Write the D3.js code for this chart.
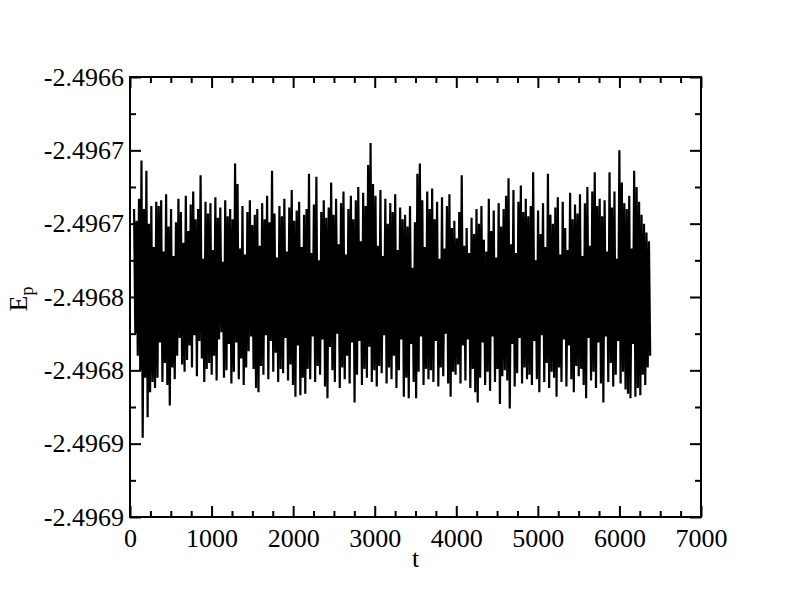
<!DOCTYPE html>
<html lang="en">
<head>
    <meta charset="utf-8">
    <title>Ep vs t</title>
    <style>
        body {
            margin: 0;
            background-color: #ffffff;
        }
        text {
            font-family: 'Liberation Serif', 'Times New Roman', serif;
        }
    </style>
    <script src="https://d3js.org/d3.v7.min.js" charset="utf-8"></script>
</head>
<body>
    <svg id="chart" width="792" height="610"></svg>

    <script type="text/javascript">
    // time axis: first sample and step between samples
    var tStart = 50
    var tStep = 15.1

    // potential energy, one value per sample
    var energy = [
        -2.496690, -2.496775, -2.496698, -2.496790, -2.496683, -2.496800, -2.496657, -2.496846, -2.496690, -2.496805,
        -2.496664, -2.496832, -2.496700, -2.496815, -2.496688, -2.496808, -2.496716, -2.496812, -2.496685, -2.496805,
        -2.496688, -2.496781, -2.496684, -2.496808, -2.496719, -2.496795, -2.496680, -2.496810, -2.496702, -2.496824,
        -2.496690, -2.496798, -2.496722, -2.496806, -2.496699, -2.496790, -2.496683, -2.496778, -2.496692, -2.496796,
        -2.496713, -2.496801, -2.496681, -2.496793, -2.496705, -2.496783, -2.496687, -2.496798, -2.496678, -2.496776,
        -2.496697, -2.496804, -2.496690, -2.496780, -2.496667, -2.496792, -2.496724, -2.496808, -2.496685, -2.496799,
        -2.496693, -2.496795, -2.496686, -2.496803, -2.496718, -2.496790, -2.496682, -2.496807, -2.496696, -2.496779,
        -2.496689, -2.496774, -2.496726, -2.496805, -2.496684, -2.496800, -2.496695, -2.496782, -2.496690, -2.496809,
        -2.496697, -2.496801, -2.496659, -2.496781, -2.496673, -2.496806, -2.496717, -2.496792, -2.496688, -2.496810,
        -2.496721, -2.496798, -2.496692, -2.496787, -2.496684, -2.496777, -2.496701, -2.496799, -2.496694, -2.496812,
        -2.496690, -2.496815, -2.496715, -2.496797, -2.496686, -2.496803, -2.496697, -2.496776, -2.496681, -2.496806,
        -2.496699, -2.496780, -2.496664, -2.496801, -2.496693, -2.496788, -2.496723, -2.496808, -2.496688, -2.496799,
        -2.496695, -2.496802, -2.496683, -2.496778, -2.496719, -2.496807, -2.496689, -2.496796, -2.496677, -2.496810,
        -2.496698, -2.496818, -2.496691, -2.496783, -2.496685, -2.496817, -2.496716, -2.496805, -2.496694, -2.496816,
        -2.496690, -2.496799, -2.496666, -2.496806, -2.496720, -2.496777, -2.496687, -2.496808, -2.496668, -2.496797,
        -2.496725, -2.496803, -2.496692, -2.496779, -2.496684, -2.496811, -2.496696, -2.496819, -2.496689, -2.496784,
        -2.496672, -2.496800, -2.496694, -2.496808, -2.496683, -2.496775, -2.496714, -2.496812, -2.496686, -2.496798,
        -2.496678, -2.496806, -2.496721, -2.496790, -2.496690, -2.496809, -2.496681, -2.496781, -2.496697, -2.496822,
        -2.496684, -2.496803, -2.496675, -2.496780, -2.496712, -2.496810, -2.496679, -2.496799, -2.496688, -2.496805,
        -2.496660, -2.496784, -2.496645, -2.496808, -2.496673, -2.496800, -2.496681, -2.496811, -2.496715, -2.496797,
        -2.496677, -2.496802, -2.496722, -2.496776, -2.496683, -2.496809, -2.496700, -2.496798, -2.496686, -2.496806,
        -2.496692, -2.496790, -2.496680, -2.496812, -2.496718, -2.496800, -2.496689, -2.496779, -2.496697, -2.496818,
        -2.496694, -2.496805, -2.496702, -2.496819, -2.496688, -2.496782, -2.496730, -2.496808, -2.496699, -2.496819,
        -2.496666, -2.496801, -2.496659, -2.496777, -2.496684, -2.496810, -2.496716, -2.496799, -2.496678, -2.496806,
        -2.496690, -2.496800, -2.496676, -2.496808, -2.496697, -2.496780, -2.496685, -2.496811, -2.496724, -2.496798,
        -2.496682, -2.496804, -2.496717, -2.496775, -2.496688, -2.496809, -2.496680, -2.496818, -2.496703, -2.496801,
        -2.496698, -2.496803, -2.496710, -2.496796, -2.496692, -2.496809, -2.496667, -2.496783, -2.496715, -2.496807,
        -2.496703, -2.496779, -2.496720, -2.496812, -2.496696, -2.496799, -2.496707, -2.496815, -2.496690, -2.496822,
        -2.496700, -2.496805, -2.496688, -2.496781, -2.496711, -2.496810, -2.496719, -2.496801, -2.496683, -2.496814,
        -2.496705, -2.496777, -2.496691, -2.496808, -2.496723, -2.496799, -2.496686, -2.496823, -2.496702, -2.496804,
        -2.496690, -2.496800, -2.496681, -2.496807, -2.496669, -2.496826, -2.496714, -2.496782, -2.496677, -2.496811,
        -2.496720, -2.496802, -2.496685, -2.496778, -2.496674, -2.496809, -2.496692, -2.496798, -2.496683, -2.496806,
        -2.496695, -2.496803, -2.496688, -2.496810, -2.496665, -2.496780, -2.496725, -2.496806, -2.496691, -2.496815,
        -2.496707, -2.496776, -2.496686, -2.496808, -2.496716, -2.496795, -2.496666, -2.496812, -2.496694, -2.496801,
        -2.496700, -2.496805, -2.496689, -2.496818, -2.496682, -2.496798, -2.496721, -2.496808, -2.496685, -2.496779,
        -2.496703, -2.496811, -2.496718, -2.496783, -2.496679, -2.496806, -2.496697, -2.496815, -2.496687, -2.496797,
        -2.496693, -2.496804, -2.496680, -2.496799, -2.496722, -2.496810, -2.496686, -2.496819, -2.496675, -2.496778,
        -2.496715, -2.496807, -2.496678, -2.496801, -2.496665, -2.496812, -2.496688, -2.496781, -2.496683, -2.496809,
        -2.496695, -2.496822, -2.496684, -2.496777, -2.496719, -2.496808, -2.496665, -2.496795, -2.496689, -2.496811,
        -2.496678, -2.496803, -2.496724, -2.496780, -2.496650, -2.496809, -2.496672, -2.496801, -2.496686, -2.496813,
        -2.496690, -2.496816, -2.496681, -2.496819, -2.496717, -2.496782, -2.496664, -2.496818, -2.496675, -2.496812,
        -2.496685, -2.496817, -2.496694, -2.496803, -2.496700, -2.496810, -2.496706, -2.496798, -2.496712, -2.496790
    ]

    var xTicks = [0, 1000, 2000, 3000, 4000, 5000, 6000, 7000]
    var xMinorTicks = [250, 500, 750, 1250, 1500, 1750, 2250, 2500, 2750, 3250, 3500, 3750,
                       4250, 4500, 4750, 5250, 5500, 5750, 6250, 6500, 6750]
    var yTicks = [-2.4966, -2.49665, -2.4967, -2.49675, -2.4968, -2.49685, -2.4969]
    var yTickLabels = ["-2.4966", "-2.4967", "-2.4967", "-2.4968", "-2.4968", "-2.4969", "-2.4969"]
    var yMinorTicks = [-2.496625, -2.496675, -2.496725, -2.496775, -2.496825, -2.496875]

    var plotL = 130, plotR = 701, plotT = 77, plotB = 517

    var svg = d3.select("#chart")

    var x = d3.scaleLinear().domain([0, 7000]).range([plotL, plotR])
    var y = d3.scaleLinear().domain([-2.4969, -2.4966]).range([plotB, plotT])

    var points = energy.map(function (e, i) { return [tStart + i * tStep, e] })

    var line = d3.line()
        .x(function (d) { return x(d[0]) })
        .y(function (d) { return y(d[1]) })

    svg.append("path")
        .datum(points)
        .attr("fill", "none")
        .attr("stroke", "#000")
        .attr("stroke-width", 2.2)
        .attr("stroke-linejoin", "bevel")
        .attr("d", line)

    function styleAxis(g) {
        g.select(".domain").remove()
        g.selectAll(".tick line").attr("stroke", "#000").attr("stroke-width", 2)
        g.selectAll(".tick text")
            .attr("fill", "#000")
            .style("font-family", "'Liberation Serif', serif")
            .style("font-size", "26px")
    }

    // bottom
    svg.append("g").attr("transform", "translate(0," + plotB + ")")
        .call(d3.axisBottom(x).tickValues(xTicks).tickSize(-11).tickPadding(12).tickFormat(d3.format("d")))
        .call(styleAxis)
    svg.append("g").attr("transform", "translate(0," + plotB + ")")
        .call(d3.axisBottom(x).tickValues(xMinorTicks).tickSize(-6).tickFormat(""))
        .call(styleAxis)
    // top
    svg.append("g").attr("transform", "translate(0," + plotT + ")")
        .call(d3.axisTop(x).tickValues(xTicks).tickSize(-11).tickFormat(""))
        .call(styleAxis)
    svg.append("g").attr("transform", "translate(0," + plotT + ")")
        .call(d3.axisTop(x).tickValues(xMinorTicks).tickSize(-6).tickFormat(""))
        .call(styleAxis)
    // left
    svg.append("g").attr("transform", "translate(" + plotL + ",0)")
        .call(d3.axisLeft(y).tickValues(yTicks).tickSize(-11).tickPadding(6)
            .tickFormat(function (d, i) { return yTickLabels[i] }))
        .call(styleAxis)
    svg.append("g").attr("transform", "translate(" + plotL + ",0)")
        .call(d3.axisLeft(y).tickValues(yMinorTicks).tickSize(-6).tickFormat(""))
        .call(styleAxis)
    // right
    svg.append("g").attr("transform", "translate(" + plotR + ",0)")
        .call(d3.axisRight(y).tickValues(yTicks).tickSize(-11).tickFormat(""))
        .call(styleAxis)
    svg.append("g").attr("transform", "translate(" + plotR + ",0)")
        .call(d3.axisRight(y).tickValues(yMinorTicks).tickSize(-6).tickFormat(""))
        .call(styleAxis)

    // frame
    svg.append("rect")
        .attr("x", plotL).attr("y", plotT)
        .attr("width", plotR - plotL).attr("height", plotB - plotT)
        .attr("fill", "none")
        .attr("stroke", "#000")
        .attr("stroke-width", 2)

    // axis titles
    svg.append("text")
        .attr("x", (plotL + plotR) / 2)
        .attr("y", 567)
        .attr("text-anchor", "middle")
        .style("font-size", "26px")
        .text("t")

    var ylab = svg.append("text")
        .attr("transform", "translate(27,299) rotate(-90)")
        .attr("text-anchor", "middle")
        .style("font-size", "26px")
    ylab.append("tspan").text("E")
    ylab.append("tspan").attr("dy", 6).style("font-size", "18px").text("p")
    </script>
</body>
</html>
